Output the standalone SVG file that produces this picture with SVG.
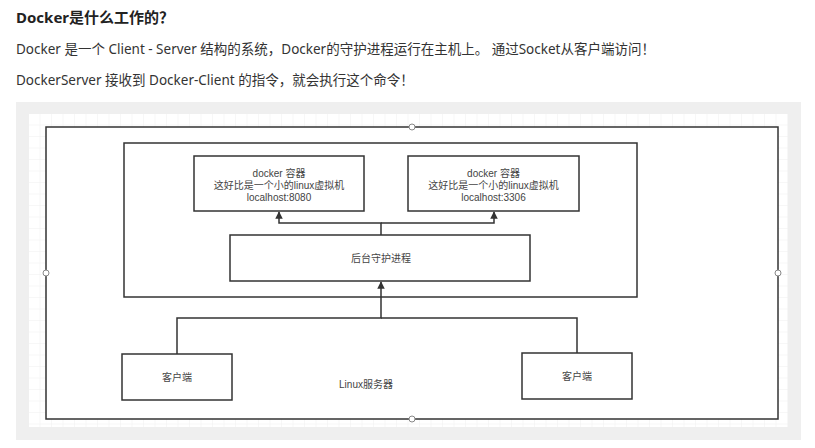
<svg xmlns="http://www.w3.org/2000/svg" width="815" height="448" viewBox="0 0 815 448">
<defs>
<style>
.h{font-family:"Noto Sans","Noto Sans CJK SC",sans-serif;font-size:15px;font-weight:bold;fill:#222}
.p{font-family:"Noto Sans","Noto Sans CJK SC",sans-serif;font-size:13.5px;fill:#333}
.box{fill:#fff;stroke:#333;stroke-width:1.5}
.t{font-family:"Liberation Sans","Noto Sans CJK SC",sans-serif;font-size:10px;fill:#444;text-anchor:middle}
.c{fill:none;stroke:#333;stroke-width:1.5}
.hd{fill:#fff;stroke:#888;stroke-width:1}
</style>
<pattern id="g" width="11.5" height="11.5" patternUnits="userSpaceOnUse" x="29" y="114">
<path d="M11.5 0V11.5H0" fill="none" stroke="#f0f0f0" stroke-width="1"/>
</pattern>
<marker id="a" viewBox="0 0 10 10" refX="9" refY="5" markerWidth="5" markerHeight="6" orient="auto" markerUnits="strokeWidth">
<path d="M0 0L10 5L0 10z" fill="#333"/>
</marker>
</defs>
<rect width="815" height="448" fill="#fff"/>
<text class="h" x="16" y="23">Docker是什么工作的？</text>
<text class="p" x="16" y="54">Docker 是一个 Client - Server 结构的系统，Docker的守护进程运行在主机上。 通过Socket从客户端访问！</text>
<text class="p" x="16" y="85">DockerServer 接收到 Docker-Client 的指令，就会执行这个命令！</text>
<rect x="16" y="102" width="785" height="338" fill="#efefef"/>
<rect x="29" y="114" width="759" height="313" fill="#fff"/>
<rect x="29" y="114" width="759" height="313" fill="url(#g)"/>
<g id="linux-server">
<rect class="box" x="46" y="127" width="732" height="292" fill="none"/>
<text class="t" x="366" y="388">Linux服务器</text>
</g>
<g id="docker-host">
<rect class="box" x="124" y="143" width="513" height="154"/>
</g>
<g id="container-8080">
<rect class="box" x="194" y="156" width="170" height="55"/>
<text class="t" x="279" y="177">docker 容器</text>
<text class="t" x="279" y="189">这好比是一个小的linux虚拟机</text>
<text class="t" x="279" y="201">localhost:8080</text>
</g>
<g id="container-3306">
<rect class="box" x="408" y="156" width="171" height="55"/>
<text class="t" x="493.5" y="177">docker 容器</text>
<text class="t" x="493.5" y="189">这好比是一个小的linux虚拟机</text>
<text class="t" x="493.5" y="201">localhost:3306</text>
</g>
<g id="daemon">
<rect class="box" x="230" y="235" width="300" height="46"/>
<text class="t" x="381" y="262">后台守护进程</text>
</g>
<g id="client-left">
<rect class="box" x="122" y="354" width="110" height="46"/>
<text class="t" x="177" y="381">客户端</text>
</g>
<g id="client-right">
<rect class="box" x="522" y="353" width="110" height="46"/>
<text class="t" x="577" y="380">客户端</text>
</g>
<g id="connectors">
<path class="c" d="M381 235V223H279V212" marker-end="url(#a)"/>
<path class="c" d="M381 223H494V212" marker-end="url(#a)"/>
<path class="c" d="M177 354V318H381V282" marker-end="url(#a)"/>
<path class="c" d="M577 353V318H381"/>
</g>
<g id="handles">
<circle class="hd" cx="412" cy="127" r="3"/>
<circle class="hd" cx="46" cy="273" r="3"/>
<circle class="hd" cx="778" cy="273" r="3"/>
<circle class="hd" cx="412" cy="419" r="3"/>
</g>
</svg>
